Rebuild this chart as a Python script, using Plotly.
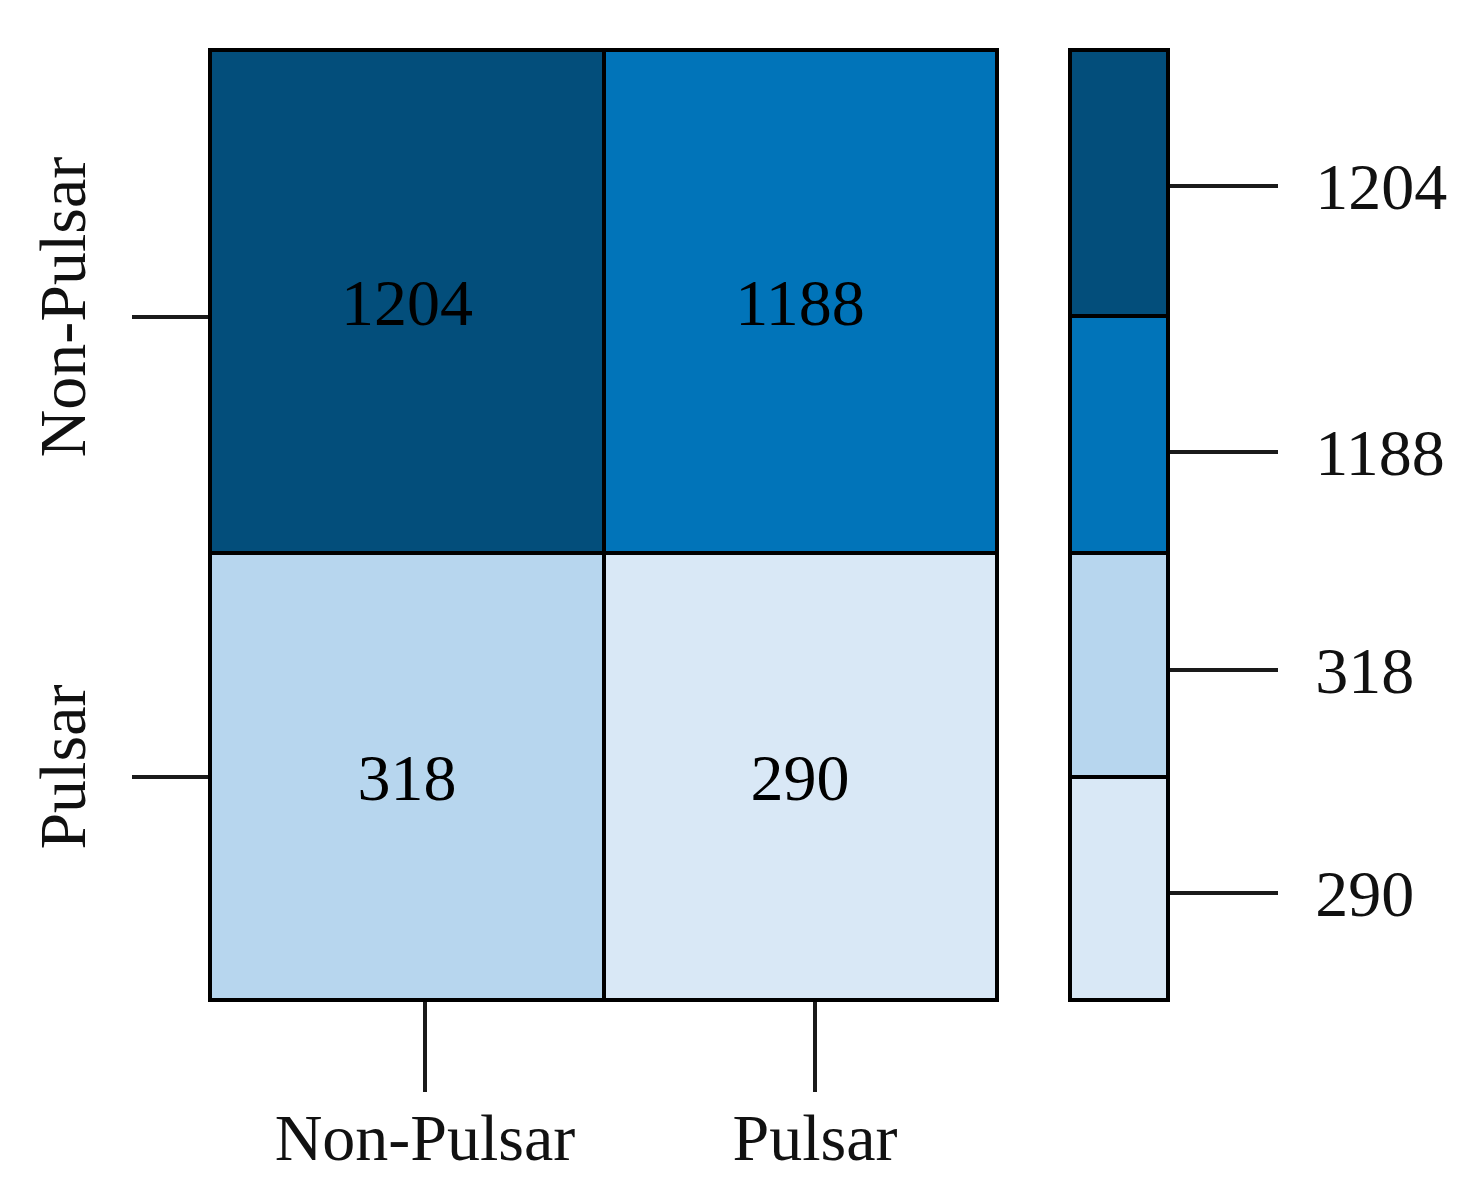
import plotly.graph_objects as go

# ---- data ----
classes = ["Non-Pulsar", "Pulsar"]          # row (top->bottom) and column (left->right) labels
counts = [[1204, 1188],                     # row: Non-Pulsar
          [318, 290]]                       # row: Pulsar
legend_values = [1204, 1188, 318, 290]      # colour key, top -> bottom
legend_colors = ["#034e7b", "#0174b9", "#b7d6ee", "#d9e8f6"]

# ---- layout / style constants (pixel geometry of the reference) ----
W, H = 1468, 1201
OFF = 8                              # page body margin
FONT = "Liberation Serif"
FS = 66
TOP, BOTTOM = 50 - OFF, 1000 - OFF
HM_LEFT, HM_RIGHT = 210 - OFF, 997 - OFF
CB_LEFT, CB_RIGHT = 1070 - OFF, 1168 - OFF
ROW_SPLIT = 553 - OFF
CB_SPLITS = [316 - OFF, 553 - OFF, 777 - OFF]
Y_TICK_PX = [317 - OFF, 777 - OFF]
X_TICK_PX = [425 - OFF, 815 - OFF]
CB_TICK_PX = [186 - OFF, 452 - OFF, 670 - OFF, 893 - OFF]

span = BOTTOM - TOP
def fy(px):
    return (px - TOP) / span

row_edges = [0, fy(ROW_SPLIT), 1]
col_edges = [0, 1, 2]
cb_edges = [0] + [fy(p) for p in CB_SPLITS] + [1]

vmin, vmax = min(legend_values), max(legend_values)
cscale = sorted([[(v - vmin) / (vmax - vmin), c] for v, c in zip(legend_values, legend_colors)])

fig = go.Figure()
fig.add_trace(go.Heatmap(
    z=counts, x=col_edges, y=row_edges,
    colorscale=cscale, zmin=vmin, zmax=vmax, showscale=False,
    xgap=4, ygap=4,
    texttemplate="%{z}", textfont=dict(family=FONT, size=FS, color="black"),
    hoverinfo="z",
    xaxis="x", yaxis="y",
))
fig.add_trace(go.Heatmap(
    z=[[v] for v in legend_values], x=[0, 1], y=cb_edges,
    colorscale=cscale, zmin=vmin, zmax=vmax, showscale=False,
    xgap=4, ygap=4, hoverinfo="z",
    xaxis="x2", yaxis="y2",
))

paper_y0 = (H - BOTTOM) / H
paper_y1 = (H - TOP) / H
x_tick_vals = [(p - HM_LEFT) / (HM_RIGHT - HM_LEFT) * 2 for p in X_TICK_PX]

axis_common = dict(showgrid=False, zeroline=False, showline=True, linecolor="black",
                   linewidth=2, mirror=True, tickcolor="#1a1a1a", tickwidth=3.5,
                   tickfont=dict(family=FONT, size=FS, color="#111111"))

fig.update_layout(
    width=W, height=H,
    margin=dict(l=0, r=0, t=0, b=0),
    paper_bgcolor="white", plot_bgcolor="black",
    font=dict(family=FONT, size=FS, color="#111111"),
    xaxis=dict(domain=[HM_LEFT / W, HM_RIGHT / W], range=[0, 2],
               tickvals=x_tick_vals, ticktext=classes, ticks="outside", ticklen=90,
               ticklabelstandoff=-11, **axis_common),
    yaxis=dict(domain=[paper_y0, paper_y1], range=[1, 0],
               tickvals=[fy(p) for p in Y_TICK_PX], ticktext=classes, ticks="outside",
               ticklen=76, tickangle=-90, ticklabelstandoff=21, **axis_common),
    xaxis2=dict(domain=[CB_LEFT / W, CB_RIGHT / W], range=[0, 1], showticklabels=False,
                anchor="y2", **axis_common),
    yaxis2=dict(domain=[paper_y0, paper_y1], range=[1, 0], anchor="x2", side="right",
                tickvals=[fy(p) for p in CB_TICK_PX], ticktext=[str(v) for v in legend_values],
                ticks="outside", ticklen=108, ticklabelstandoff=24, **axis_common),
)
fig.update_xaxes(ticks="", selector=dict(anchor="y2"))

fig.write_html("out.html")
